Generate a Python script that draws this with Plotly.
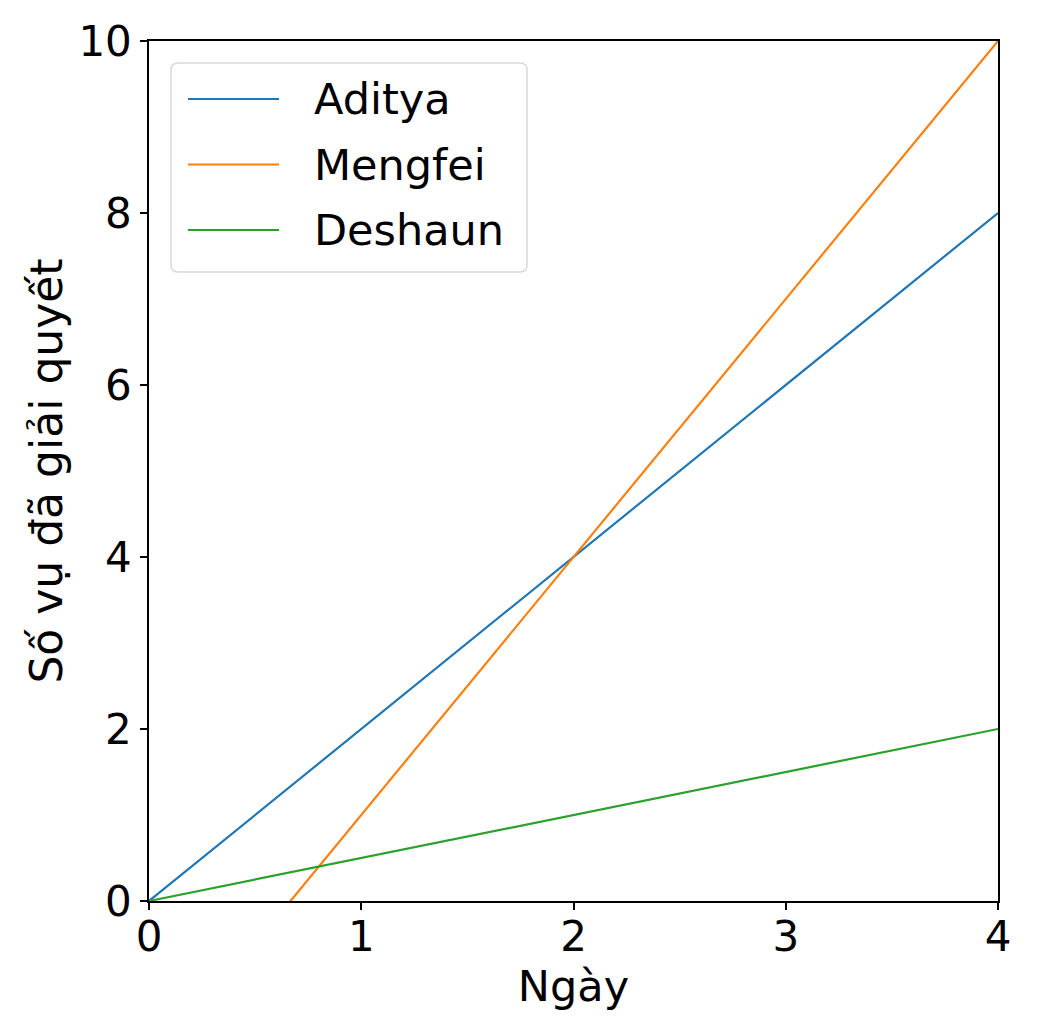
import plotly.graph_objects as go

days = [0, 1, 2, 3, 4]
aditya = [0, 2, 4, 6, 8]
mengfei = [-2, 1, 4, 7, 10]
deshaun = [0, 0.5, 1, 1.5, 2]

series = [
    ("Aditya", aditya, "#1f77b4"),
    ("Mengfei", mengfei, "#ff7f0e"),
    ("Deshaun", deshaun, "#2ca02c"),
]

FONT = "DejaVu Sans"

# plot area in page pixels (page is offset by ~7px), used to place the legend box
PX_L, PX_R, PX_T, PX_B = 148, 997, 40, 900


def px_x(v):
    return (v - PX_L) / (PX_R - PX_L)


def px_y(v):
    return (PX_B - v) / (PX_B - PX_T)


fig = go.Figure()
for name, values, color in series:
    fig.add_trace(
        go.Scatter(
            x=days,
            y=values,
            name=name,
            mode="lines",
            line=dict(color=color, width=2.2),
            showlegend=False,
        )
    )

axis_style = dict(
    showline=True,
    linecolor="black",
    linewidth=1.5,
    mirror=True,
    showgrid=False,
    zeroline=False,
    ticks="outside",
    ticklen=7,
    tickwidth=1.5,
    tickcolor="black",
    tickfont=dict(family=FONT, size=42, color="black"),
)

fig.update_xaxes(
    range=[0, 4],
    dtick=1,
    ticklabelstandoff=-9,
    title=dict(text="Ngày", font=dict(family=FONT, size=43, color="black"), standoff=0),
    **axis_style,
)
fig.update_yaxes(
    range=[0, 10],
    dtick=2,
    title=dict(text="Số vụ đã giải quyết", font=dict(family=FONT, size=44, color="black"), standoff=2),
    **axis_style,
)

# legend drawn by hand so the frame is rounded and the keys are long like the original
x0, x1 = px_x(170), px_x(526)
y0, y1 = px_y(271), px_y(62)
rx, ry = 7 / (PX_R - PX_L), 7 / (PX_B - PX_T)
frame = (
    f"M {x0 + rx},{y1} L {x1 - rx},{y1} Q {x1},{y1} {x1},{y1 - ry} "
    f"L {x1},{y0 + ry} Q {x1},{y0} {x1 - rx},{y0} "
    f"L {x0 + rx},{y0} Q {x0},{y0} {x0},{y0 + ry} "
    f"L {x0},{y1 - ry} Q {x0},{y1} {x0 + rx},{y1} Z"
)
shapes = [
    dict(
        type="path",
        xref="paper",
        yref="paper",
        path=frame,
        fillcolor="rgba(255,255,255,0.8)",
        line=dict(color="#d9d9d9", width=1.5),
        layer="above",
    )
]
annotations = []
for i, (name, _, color) in enumerate(series):
    row_y = px_y(98 + 65.5 * i)
    shapes.append(
        dict(
            type="line",
            xref="paper",
            yref="paper",
            x0=px_x(187),
            x1=px_x(278),
            y0=row_y,
            y1=row_y,
            line=dict(color=color, width=2.2),
            layer="above",
        )
    )
    annotations.append(
        dict(
            xref="paper",
            yref="paper",
            x=px_x(311),
            y=row_y,
            xanchor="left",
            yanchor="middle",
            text=name,
            showarrow=False,
            font=dict(family=FONT, size=43, color="black"),
        )
    )

fig.update_layout(
    width=1040,
    height=1024,
    paper_bgcolor="white",
    plot_bgcolor="white",
    margin=dict(l=141, r=50, t=33, b=131, autoexpand=False),
    font=dict(family=FONT, color="black"),
    shapes=shapes,
    annotations=annotations,
    showlegend=False,
)

fig.write_html("out.html")
